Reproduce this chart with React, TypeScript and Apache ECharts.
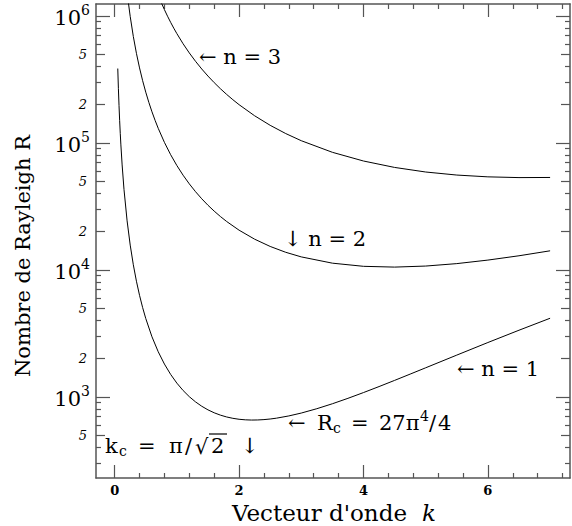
import React, { useEffect, useRef } from "react";
import * as echarts from "echarts";

// Wavenumber k and Rayleigh number R (n = 1, 2, 3)
const kN1 = [0.05, 0.06, 0.07, 0.08, 0.09, 0.1, 0.12, 0.15, 0.2, 0.25, 0.3, 0.35, 0.4, 0.45, 0.5, 0.6, 0.7, 0.8, 0.9, 1.0, 1.1, 1.2, 1.3, 1.4, 1.5, 1.6, 1.7, 1.8, 1.9, 2.0, 2.1, 2.2, 2.3, 2.4, 2.5, 2.6, 2.8, 3.0, 3.25, 3.5, 3.75, 4.0, 4.25, 4.5, 4.75, 5.0, 5.5, 6.0, 6.5, 7.0];
const rN1 = [384850, 267344, 196494, 150510, 118981, 96432, 67056, 43021, 24328, 15676, 10977, 8144, 6306, 5046, 4145, 2974, 2269, 1814, 1503.8, 1284, 1124.0, 1004.6, 914.0, 844.6, 791.2, 750.1, 718.8, 695.4, 678.5, 667.0, 660.3, 657.6, 658.6, 662.9, 670.2, 680.3, 708.5, 746.5, 807.6, 883.5, 974.7, 1082.1, 1206.5, 1349.3, 1511.9, 1695.9, 2134.7, 2680.8, 3351, 4163.7];

const kN2 = [0.2, 0.22, 0.25, 0.3, 0.35, 0.4, 0.45, 0.5, 0.55, 0.6, 0.65, 0.7, 0.8, 0.9, 1.0, 1.1, 1.2, 1.3, 1.4, 1.5, 1.6, 1.7, 1.8, 2.0, 2.25, 2.5, 2.75, 3.0, 3.5, 4.0, 4.5, 5.0, 5.5, 6.0, 6.5, 7.0];
const rN2 = [1542900, 1275900, 989140, 688330, 506960, 389250, 308548, 250820, 208112, 175630, 150355, 130300, 100890, 80734, 66324, 55671, 47576, 41286, 36304, 32293, 29020, 26316, 24060, 20548, 17455, 15300, 13764, 12659, 11299, 10672, 10522, 10723, 11207, 11947, 12921, 14136];

const kN3 = [0.75, 0.8, 0.85, 0.9, 0.95, 1.0, 1.1, 1.2, 1.3, 1.4, 1.5, 1.6, 1.7, 1.8, 1.9, 2.0, 2.25, 2.5, 2.75, 3.0, 3.5, 4.0, 4.5, 5.0, 5.5, 6.0, 6.5, 7.0];
const rN3 = [1269780, 1118920, 993901, 889140, 800462, 724790, 603211, 510760, 438832, 381770, 335765, 298130, 266958, 240860, 218788, 199965, 163485, 137511, 118417, 104022, 84297, 71993, 64086, 58991, 55815, 54028, 53302, 53433];

// Axis ticks
const xMajorTicks = [0, 2, 4, 6];
const xMinorTicks = [0.4, 0.8, 1.2, 1.6, 2.4, 2.8, 3.2, 3.6, 4.4, 4.8, 5.2, 5.6, 6.4, 6.8, 7.2];
const yMajorTicks = [1000, 10000, 100000, 1000000];
const yMidTicks = [500, 2000, 5000, 20000, 50000, 200000, 500000];
const yMinorTicks = [300, 400, 600, 700, 800, 900, 3000, 4000, 6000, 7000, 8000, 9000, 30000, 40000, 60000, 70000, 80000, 90000, 300000, 400000, 600000, 700000, 800000, 900000];

const X_MIN = -0.3;
const X_MAX = 7.32;
const Y_MIN = 230;
const Y_MAX = 1240000;

const SERIF = '"DejaVu Serif", "Liberation Serif", serif';
const AXIS_COLOR = "#555";

export default function App() {
  const ref = useRef<HTMLDivElement>(null);

  useEffect(() => {
    if (!ref.current) return;
    const chart = echarts.init(ref.current, undefined, { renderer: "svg" });

    const xAxisBase = (position: string, ticks: number[], len: number, showLine: boolean, showLabel: boolean) => ({
      type: "value",
      position,
      min: X_MIN,
      max: X_MAX,
      gridIndex: 0,
      axisLine: { show: showLine, onZero: false, lineStyle: { color: AXIS_COLOR, width: 1.5 } },
      axisTick: { show: true, inside: true, length: len, customValues: ticks, lineStyle: { color: AXIS_COLOR, width: 1.2 } },
      axisLabel: showLabel
        ? { show: true, customValues: ticks, margin: 6, color: "#000", fontFamily: SERIF, fontSize: 13, fontWeight: "bold" }
        : { show: false },
      splitLine: { show: false },
    });

    const yAxisBase = (position: string, ticks: number[], len: number, showLine: boolean, label: any) => ({
      type: "log",
      logBase: 10,
      position,
      min: Y_MIN,
      max: Y_MAX,
      gridIndex: 0,
      axisLine: { show: showLine, onZero: false, lineStyle: { color: AXIS_COLOR, width: 1.5 } },
      axisTick: { show: true, inside: true, length: len, customValues: ticks, lineStyle: { color: AXIS_COLOR, width: 1.2 } },
      axisLabel: label ? { ...label, customValues: ticks } : { show: false },
      splitLine: { show: false },
      minorTick: { show: false },
    });

    const majorLabel = {
      show: true,
      margin: 6,
      color: "#000",
      formatter: (v: number) => `{b|10}{s|${Math.round(Math.log10(v))}}`,
      rich: {
        b: { fontFamily: SERIF, fontSize: 21, color: "#000", lineHeight: 26, verticalAlign: "bottom" },
        s: { fontFamily: SERIF, fontSize: 14, color: "#000", lineHeight: 14, verticalAlign: "top" },
      },
    };
    const midLabel = {
      show: true,
      margin: 9,
      color: "#000",
      fontFamily: SERIF,
      fontSize: 13,
      fontStyle: "italic",
      formatter: (v: number) => String(Math.round(v)).charAt(0),
    };

    const series = [
      { name: "n = 1", k: kN1, r: rN1 },
      { name: "n = 2", k: kN2, r: rN2 },
      { name: "n = 3", k: kN3, r: rN3 },
    ].map((s) => ({
      type: "line",
      name: s.name,
      xAxisIndex: 0,
      yAxisIndex: 0,
      data: s.k.map((k, i) => [k, s.r[i]]),
      showSymbol: false,
      symbol: "none",
      smooth: false,
      clip: true,
      lineStyle: { color: "#000", width: 1 },
    }));

    const FS = 21;
    const txt = (text: string, x: number, y: number, size = FS, extra: any = {}) => ({
      type: "text",
      x,
      y,
      style: {
        text,
        font: `${extra.italic ? "italic " : ""}${size}px ${SERIF}`,
        fill: "#000",
        textAlign: extra.align || "left",
        textVerticalAlign: "middle",
      },
      ...(extra.rotation ? { rotation: extra.rotation } : {}),
    });

    const option: any = {
      animation: false,
      backgroundColor: "#fff",
      grid: { left: 96, right: 2, top: 4, bottom: 48, containLabel: false },
      xAxis: [
        xAxisBase("bottom", xMajorTicks, 13, true, true),
        xAxisBase("bottom", xMinorTicks, 5, false, false),
        xAxisBase("top", xMajorTicks, 13, true, false),
        xAxisBase("top", xMinorTicks, 5, false, false),
      ],
      yAxis: [
        yAxisBase("left", yMajorTicks, 14, true, majorLabel),
        yAxisBase("left", yMidTicks, 9, false, midLabel),
        yAxisBase("left", yMinorTicks, 5, false, null),
        yAxisBase("right", yMajorTicks, 14, true, null),
        yAxisBase("right", yMidTicks, 9, false, null),
        yAxisBase("right", yMinorTicks, 5, false, null),
      ],
      series,
      graphic: [
        txt("Nombre de Rayleigh R", 23, 256, 21, { align: "center", rotation: Math.PI / 2 }),
        txt("Vecteur d'onde", 232, 513, 23),
        txt("k", 422, 513, 23, { italic: true }),
        // curve labels
        txt("\u2190 n = 3", 199, 57, FS),
        txt("\u2193 n = 2", 284, 239, FS),
        txt("\u2190 n = 1", 457, 369, FS),
        // R_c = 27 pi^4 / 4
        txt("\u2190", 288, 423, FS),
        txt("R", 317, 423, FS),
        txt("c", 333, 428, 14),
        txt("=", 351, 423, FS),
        txt("27\u03c0", 379, 423, FS),
        txt("4", 420, 416, 14),
        txt("/", 429, 423, FS),
        txt("4", 438, 423, FS),
        // k_c = pi / sqrt(2)
        txt("k", 105, 446, FS),
        txt("c", 119, 451, 14),
        txt("=", 138, 446, FS),
        txt("\u03c0", 169, 446, FS),
        txt("/", 185, 446, FS),
        txt("\u221a", 195, 447, FS),
        txt("2", 211, 446, FS),
        {
          type: "line",
          shape: { x1: 209, y1: 434, x2: 227, y2: 434 },
          style: { stroke: "#000", lineWidth: 1.2 },
        },
        txt("\u2193", 241, 446, FS),
      ],
    };

    chart.setOption(option);
    return () => chart.dispose();
  }, []);

  return <div ref={ref} style={{ position: "absolute", left: 0, top: 0, width: 572, height: 526 }} />;
}
